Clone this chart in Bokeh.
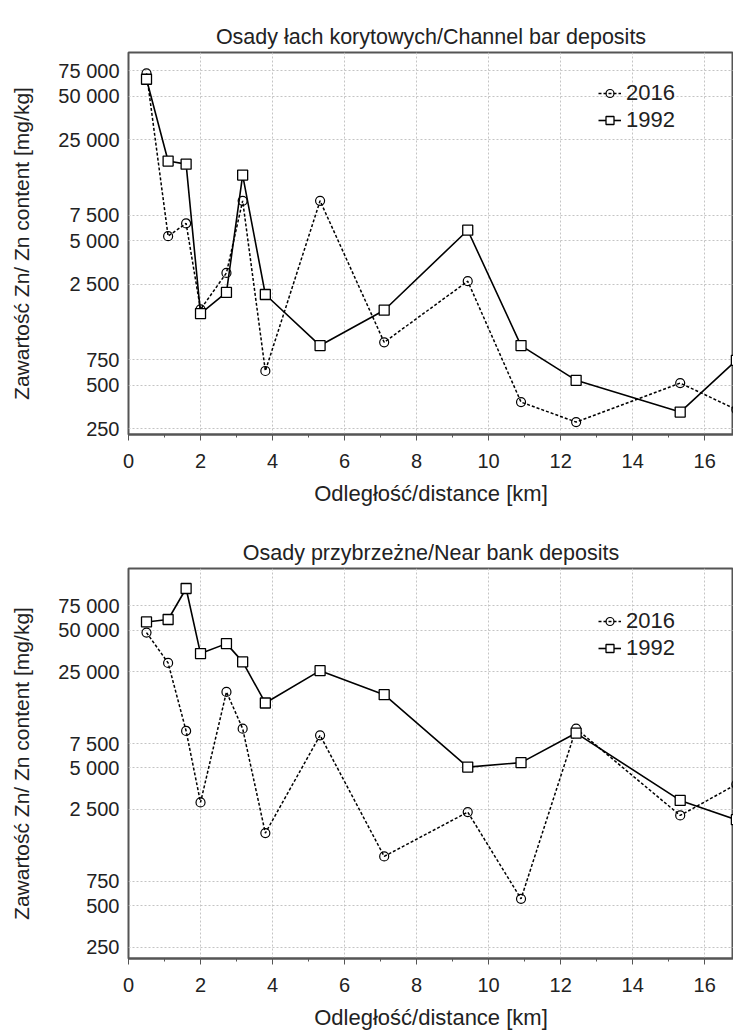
from bokeh.plotting import figure
from bokeh.layouts import column
from bokeh.models import FixedTicker, Range1d, Legend, LegendItem
from bokeh.embed import file_html
from bokeh.resources import INLINE

# ---- data ----
distance_km = [0.5, 1.1, 1.6, 2.0, 2.72, 3.17, 3.8, 5.32, 7.1, 9.42, 10.9, 12.43, 15.32, 16.88]

bar_2016 = [71800, 5370, 6570, 1670, 2990, 9420, 627, 9420, 990, 2620, 382, 278, 517, 339]
bar_1992 = [65300, 17750, 16900, 1565, 2190, 14200, 2120, 940, 1650, 5900, 940, 540, 326, 743]

bank_2016 = [48000, 28900, 9270, 2810, 17800, 9640, 1683, 8620, 1140, 2390, 561, 9640, 2260, 3800]
bank_1992 = [57300, 59700, 100200, 33800, 39900, 29400, 14800, 25400, 17000, 5070, 5460, 8950, 2905, 2105]

x_ticks = [0, 2, 4, 6, 8, 10, 12, 14, 16]
x_minor_ticks = [1, 3, 5, 7, 9, 11, 13, 15, 17]
y_ticks = [250, 500, 750, 2500, 5000, 7500, 25000, 50000, 75000]
y_tick_labels = ["250", "500", "750", "2 500", "5 000", "7 500", "25 000", "50 000", "75 000"]

title_top = "Osady łach korytowych/Channel bar deposits"
title_bottom = "Osady przybrzeżne/Near bank deposits"
x_label = "Odległość/distance [km]"
y_label = "Zawartość Zn/ Zn content [mg/kg]"
series_labels = ["2016", "1992"]

FONT = "Liberation Sans"
TEXT = "#222222"
FRAME = "#555555"
GRID = "#c4c4c4"


def make_panel(title, v2016, v1992, y_lo, y_hi, height, border_top, border_bottom, legend_xy):
    p = figure(width=733, height=height,
               x_range=Range1d(0, 16.8), y_range=Range1d(y_lo, y_hi),
               y_axis_type="log", output_backend="svg", toolbar_location=None,
               min_border_left=128, min_border_right=0,
               min_border_top=border_top, min_border_bottom=border_bottom)
    p.background_fill_color = "white"
    p.border_fill_color = "white"
    p.outline_line_color = FRAME
    p.outline_line_width = 2

    # title
    p.title.text = title
    p.title.align = "center"
    p.title.text_font = FONT
    p.title.text_font_size = "21.5px"
    p.title.text_font_style = "normal"
    p.title.text_color = TEXT
    p.title.standoff = 8

    # x axis (below)
    xa = p.xaxis[0]
    xa.ticker = FixedTicker(ticks=x_ticks, minor_ticks=x_minor_ticks)
    xa.axis_label = x_label
    xa.axis_label_text_font = FONT
    xa.axis_label_text_font_size = "22px"
    xa.axis_label_text_font_style = "normal"
    xa.axis_label_text_color = TEXT
    xa.axis_label_standoff = 10
    xa.major_label_text_font = FONT
    xa.major_label_text_font_size = "20px"
    xa.major_label_text_color = TEXT
    xa.major_label_standoff = 13
    xa.axis_line_color = FRAME
    xa.axis_line_width = 2
    xa.major_tick_in = 0
    xa.major_tick_out = 6
    xa.minor_tick_in = 0
    xa.minor_tick_out = 3
    xa.major_tick_line_color = FRAME
    xa.minor_tick_line_color = FRAME

    # y axis
    ya = p.yaxis[0]
    ya.ticker = FixedTicker(ticks=y_ticks)
    ya.major_label_overrides = dict(zip(y_ticks, y_tick_labels))
    ya.axis_label = y_label
    ya.axis_label_text_font = FONT
    ya.axis_label_text_font_size = "21px"
    ya.axis_label_text_font_style = "normal"
    ya.axis_label_text_color = TEXT
    ya.axis_label_standoff = 22
    ya.major_label_text_font = FONT
    ya.major_label_text_font_size = "20px"
    ya.major_label_text_color = TEXT
    ya.major_label_standoff = 9
    ya.axis_line_color = None
    ya.major_tick_in = 0
    ya.major_tick_out = 0
    ya.minor_tick_line_color = None

    # grids
    for g in (p.xgrid[0], p.ygrid[0]):
        g.grid_line_color = GRID
        g.grid_line_dash = "2 2"
        g.grid_line_width = 1

    # series
    l16 = p.line(distance_km, v2016, line_color="black", line_width=1.5, line_dash="3 2")
    s16 = p.scatter(distance_km, v2016, marker="circle", size=9,
                    fill_color=None, line_color="black", line_width=1.2)
    l92 = p.line(distance_km, v1992, line_color="black", line_width=1.6)
    s92 = p.scatter(distance_km, v1992, marker="square", size=10,
                    fill_color="white", line_color="black", line_width=1.3)

    legend = Legend(items=[LegendItem(label=series_labels[0], renderers=[l16, s16]),
                           LegendItem(label=series_labels[1], renderers=[l92, s92])],
                    location=legend_xy, border_line_color=None,
                    background_fill_alpha=0, padding=0, margin=0, spacing=1,
                    glyph_width=23, glyph_height=20, label_height=26,
                    label_standoff=5, label_text_font=FONT,
                    label_text_font_size="22px", label_text_color=TEXT)
    p.add_layout(legend)
    return p


p1 = make_panel(title_top, bar_2016, bar_1992, 228, 100000,
                height=518, border_top=52, border_bottom=84, legend_xy=(470, 301))
p2 = make_panel(title_bottom, bank_2016, bank_1992, 207, 140000,
                height=516, border_top=50, border_bottom=76, legend_xy=(470, 297))

layout = column(p1, p2, spacing=0)
open("out.html", "w").write(file_html(layout, INLINE))
